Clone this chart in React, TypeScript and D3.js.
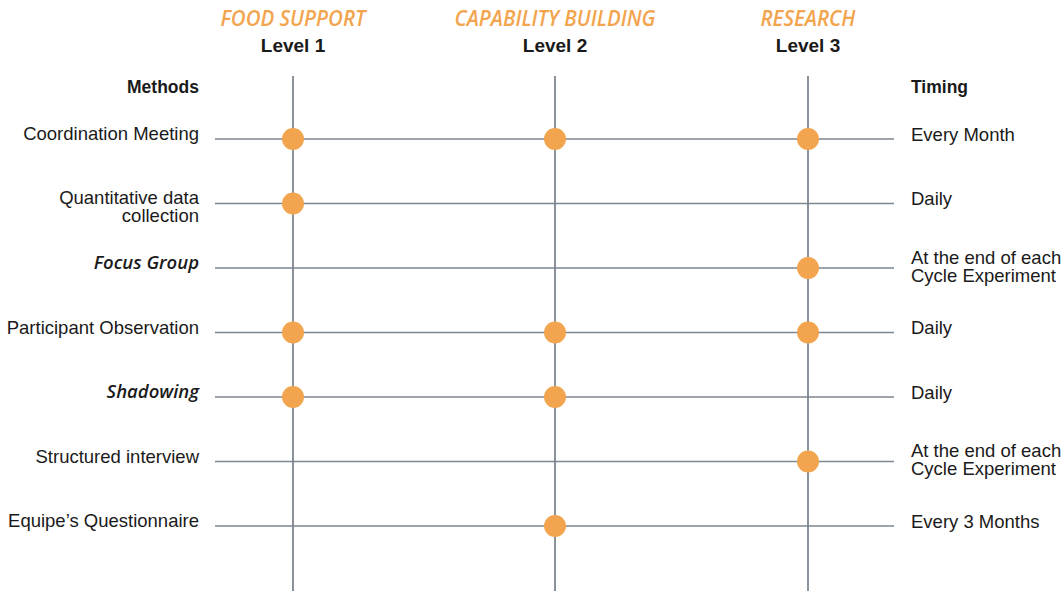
import React from "react";
import * as d3 from "d3";

const levels = ["Level 1", "Level 2", "Level 3"];
const levelThemes = ["FOOD SUPPORT", "CAPABILITY BUILDING", "RESEARCH"];
const methods = [
  "Coordination Meeting",
  "Quantitative data|collection",
  "Focus Group",
  "Participant Observation",
  "Shadowing",
  "Structured interview",
  "Equipe’s Questionnaire",
];
const italicMethods = ["Focus Group", "Shadowing"];
const timings = [
  "Every Month",
  "Daily",
  "At the end of each|Cycle Experiment",
  "Daily",
  "Daily",
  "At the end of each|Cycle Experiment",
  "Every 3 Months",
];
// which levels each method applies to (1 = yes)
const usage = [
  [1, 1, 1],
  [1, 0, 0],
  [0, 0, 1],
  [1, 1, 1],
  [1, 1, 0],
  [0, 0, 1],
  [0, 1, 0],
];

const W = 1064;
const H = 591;
const ORANGE = "#F2A54E";
const LINE = "#7d8691";
const TEXT = "#1a1a1a";

export default function App() {
  const x = d3.scaleOrdinal<string, number>().domain(levels).range([293, 555, 808]);
  const y = d3.scalePoint<string>().domain(methods).range([139, 526]);
  const leftX = 199;
  const rightX = 911;
  const hLineX0 = 215;
  const hLineX1 = 894;
  const themeWidths = [145, 201, 95];
  const sans = "'Liberation Sans', Arial, sans-serif";

  return (
    <svg width={W} height={H} style={{ position: "fixed", left: 0, top: 0, background: "#fff" }}>
      <rect width={W} height={H} fill="#fff" />
      {/* vertical lines */}
      {levels.map((l) => (
        <line key={l} x1={x(l)} x2={x(l)} y1={76} y2={H} stroke={LINE} strokeWidth={1.8} />
      ))}
      {/* horizontal lines */}
      {methods.map((m) => (
        <line key={m} x1={hLineX0} x2={hLineX1} y1={y(m)} y2={y(m)} stroke={LINE} strokeWidth={1.5} />
      ))}
      {/* headers */}
      {levels.map((l, i) => (
        <g key={l}>
          <text
            x={x(l)}
            y={26}
            textAnchor="middle"
            fontFamily="'Open Sans', sans-serif"
            fontStyle="italic"
            fontWeight={600}
            fontSize={21}
            fill={ORANGE}
            textLength={themeWidths[i]}
            lengthAdjust="spacingAndGlyphs"
          >
            {levelThemes[i]}
          </text>
          <text x={x(l)} y={52} textAnchor="middle" fontFamily={sans} fontWeight="bold" fontSize={19} fill={TEXT}>
            {l}
          </text>
        </g>
      ))}
      <text x={leftX} y={93} textAnchor="end" fontFamily={sans} fontWeight="bold" fontSize={17.5} fill={TEXT}>
        Methods
      </text>
      <text x={rightX} y={93} textAnchor="start" fontFamily={sans} fontWeight="bold" fontSize={17.5} fill={TEXT}>
        Timing
      </text>
      {/* method labels */}
      {methods.map((m) => {
        const parts = m.split("|");
        const italic = italicMethods.includes(m);
        const yy = y(m)!;
        const start = parts.length > 1 ? 0 : 1;
        return (
          <text
            key={m}
            x={leftX}
            textAnchor="end"
            fontFamily={italic ? "'Open Sans', sans-serif" : sans}
            fontStyle={italic ? "italic" : "normal"}
            fontWeight={italic ? 600 : 400}
            fontSize={italic ? 18.5 : 18.5}
            fill={TEXT}
          >
            {parts.map((p, i) => (
              <tspan key={i} x={leftX} y={yy + start + i * 18}>
                {p}
              </tspan>
            ))}
          </text>
        );
      })}
      {/* timing labels */}
      {timings.map((t, r) => {
        const parts = t.split("|");
        const yy = y(methods[r])!;
        const start = parts.length > 1 ? -4.5 : 1.5;
        return (
          <text key={r} x={rightX} fontFamily={sans} fontSize={18.5} fill={TEXT}>
            {parts.map((p, i) => (
              <tspan key={i} x={rightX} y={yy + start + i * 18}>
                {p}
              </tspan>
            ))}
          </text>
        );
      })}
      {/* dots */}
      {usage.map((row, r) =>
        row.map((v, c) =>
          v ? <circle key={`${r}-${c}`} cx={x(levels[c])} cy={y(methods[r])} r={11} fill={ORANGE} /> : null
        )
      )}
    </svg>
  );
}
